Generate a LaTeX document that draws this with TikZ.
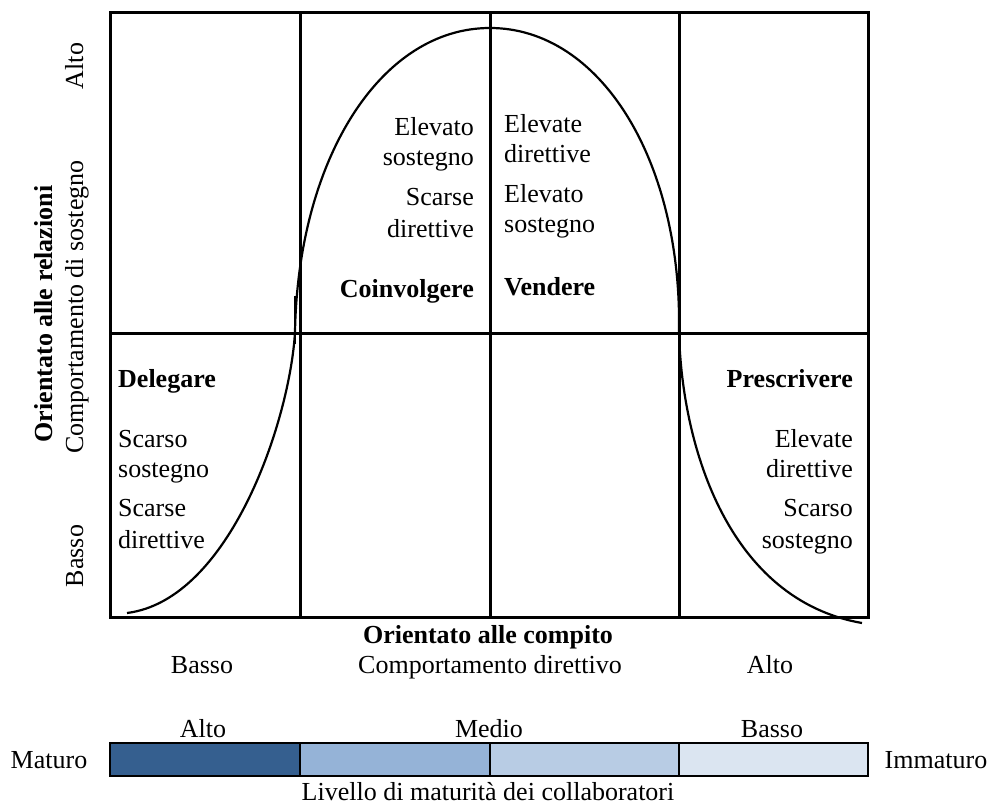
\documentclass[tikz,border=0pt]{standalone}
\usepackage{fontspec}
\setmainfont{Liberation Serif}
\definecolor{barA}{HTML}{355F8F}
\definecolor{barB}{HTML}{95B3D7}
\definecolor{barC}{HTML}{B8CCE4}
\definecolor{barD}{HTML}{DBE5F1}
\tikzset{
  lbl/.style={inner sep=0pt, font=\fontsize{26}{30}\selectfont},
  blbl/.style={lbl, font=\fontsize{26}{30}\selectfont\bfseries},
  grid/.style={line width=3pt},
  bell/.style={line width=2.2pt},
  cell/.style={draw=black, line width=2.8pt},
}
\begin{document}
\begin{tikzpicture}[x=1pt,y=-1pt]
\useasboundingbox (0,0) rectangle (993,805);

% quadrant frame
\draw[grid] (110,13) rectangle (868,617);
\draw[grid] (300,13) -- (300,617);
\draw[grid] (490,13) -- (490,617);
\draw[grid] (679,13) -- (679,617);
\draw[grid] (110,333) -- (868,333);

% bell curve
\coordinate (b0) at (127,613);
\coordinate (b1) at (295,332);
\coordinate (b2) at (490,28);
\coordinate (b3) at (679,332);
\coordinate (b4) at (862,623);
\draw[bell] (b0) .. controls (230,600) and (290,420) .. (b1)
                 .. controls (298,160) and (380,28) .. (b2)
                 .. controls (600,28) and (682,160) .. (b3)
                 .. controls (682,450) and (730,600) .. (b4);
\draw[line width=1.8pt] (295,296) -- (295,344);

% vertical axis labels
\node[blbl, rotate=90, anchor=base] (relaz) at (52,314) {Orientato alle relazioni};
\node[lbl, rotate=90, anchor=base] (sost) at (83,307) {Comportamento di sostegno};
\node[lbl, rotate=90, anchor=base] (yalto) at (83,66) {Alto};
\node[lbl, rotate=90, anchor=base] (ybasso) at (83,556) {Basso};

% Coinvolgere quadrant
\node[lbl, anchor=base east] (c1) at (474,136) {Elevato};
\node[lbl, anchor=base east] (c2) at (474,166) {sostegno};
\node[lbl, anchor=base east] (c3) at (474,206) {Scarse};
\node[lbl, anchor=base east] (c4) at (474,237) {direttive};
\node[blbl, anchor=base east] (coinv) at (474,297) {Coinvolgere};

% Vendere quadrant
\node[lbl, anchor=base west] (v1) at (504,133) {Elevate};
\node[lbl, anchor=base west] (v2) at (504,163) {direttive};
\node[lbl, anchor=base west] (v3) at (504,203) {Elevato};
\node[lbl, anchor=base west] (v4) at (504,233) {sostegno};
\node[blbl, anchor=base west] (vend) at (504,295) {Vendere};

% Delegare quadrant
\node[blbl, anchor=base west] (deleg) at (118,387) {Delegare};
\node[lbl, anchor=base west] (d1) at (118,447) {Scarso};
\node[lbl, anchor=base west] (d2) at (118,477) {sostegno};
\node[lbl, anchor=base west] (d3) at (118,516) {Scarse};
\node[lbl, anchor=base west] (d4) at (118,548) {direttive};

% Prescrivere quadrant
\node[blbl, anchor=base east] (presc) at (853,387) {Prescrivere};
\node[lbl, anchor=base east] (p1) at (853,447) {Elevate};
\node[lbl, anchor=base east] (p2) at (853,477) {direttive};
\node[lbl, anchor=base east] (p3) at (853,516) {Scarso};
\node[lbl, anchor=base east] (p4) at (853,548) {sostegno};

% horizontal axis labels
\node[blbl, anchor=base] (compito) at (488,643) {Orientato alle compito};
\node[lbl, anchor=base] (xbasso) at (202,673) {Basso};
\node[lbl, anchor=base] (dirett) at (490,673) {Comportamento direttivo};
\node[lbl, anchor=base] (xalto) at (770,673) {Alto};

% maturity scale
\node[lbl, anchor=base] (malto) at (203,737) {Alto};
\node[lbl, anchor=base] (mmedio) at (489,737) {Medio};
\node[lbl, anchor=base] (mbasso) at (772,737) {Basso};
\fill[barA] (110,743) rectangle (300,776);
\fill[barB] (300,743) rectangle (490,776);
\fill[barC] (490,743) rectangle (679,776);
\fill[barD] (679,743) rectangle (868,776);
\draw[cell] (110,743) rectangle (868,776);
\draw[cell] (300,743) -- (300,776);
\draw[cell] (490,743) -- (490,776);
\draw[cell] (679,743) -- (679,776);
\node[lbl, anchor=base] (maturo) at (49,768) {Maturo};
\node[lbl, anchor=base] (immaturo) at (936,768) {Immaturo};
\node[lbl, anchor=base] (livello) at (488,800) {Livello di maturità dei collaboratori};
\end{tikzpicture}
\end{document}
